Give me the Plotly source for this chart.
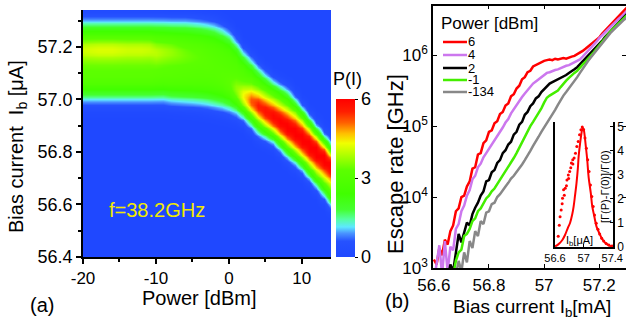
import numpy as np
import plotly.graph_objects as go

W, H = 626, 323
FA = "Liberation Sans, Arial, Helvetica, sans-serif"
FN = "Liberation Sans, Arial, Helvetica, sans-serif"

# ---------------- Panel (a): P(I) map vs microwave power ----------------
power_dbm = list(range(-20, 15))
band_center = [57.148] * 12 + [57.145, 57.144, 57.143, 57.141, 57.138, 57.134, 57.128, 57.118,
                               57.105, 57.083, 57.055, 57.025, 56.995, 56.975, 56.955, 56.933,
                               56.91, 56.88, 56.85, 56.815, 56.78, 56.74, 56.70]
band_halfwidth = [0.148] * 12 + [0.15, 0.151, 0.152, 0.152, 0.152, 0.152, 0.152, 0.149,
                                 0.145, 0.135, 0.125, 0.125, 0.125, 0.12, 0.115, 0.12,
                                 0.125, 0.12, 0.115, 0.112, 0.11, 0.107, 0.105]
band_level = [3.3] * 10 + [3.25, 3.22, 3.2, 3.17, 3.15, 3.12, 3.1, 3.07, 3.05, 3.02] + [3.0] * 15
peak_center = [57.19] * 10 + [57.18, 57.18, 57.18, 57.175, 57.17, 57.165, 57.16, 57.14, 57.12,
                              57.09, 57.06, 57.035, 57.01, 56.993, 56.975, 56.955, 56.935,
                              56.915, 56.895, 56.873, 56.85, 56.825, 56.80, 56.775, 56.75]
peak_height = [0.8, 0.85, 0.9, 0.9, 0.9, 0.85, 0.8, 0.8, 0.8, 0.75, 0.7, 0.6, 0.5, 0.4, 0.3,
               0.25, 0.2, 0.15, 0.1, 0.15, 0.3, 0.7, 1.4, 2.2, 2.6, 2.75, 2.9, 3.0, 3.1, 3.15,
               3.2, 3.25, 3.3, 3.3, 3.3]
peak_width = [0.03] * 17 + [0.033, 0.035, 0.035, 0.035, 0.035, 0.035, 0.038, 0.04, 0.042,
                            0.044, 0.046, 0.048, 0.05, 0.05, 0.05, 0.05, 0.05, 0.05]
bias_grid = np.round(np.arange(56.40, 57.365, 0.01), 3)

z = np.zeros((len(bias_grid), len(power_dbm)))
for j in range(len(power_dbm)):
    s = band_halfwidth[j] / 1.2
    band = band_level[j] * np.exp(-0.5 * ((bias_grid - band_center[j]) / s) ** 4)
    core = peak_height[j] * np.exp(-0.5 * ((bias_grid - peak_center[j]) / peak_width[j]) ** 2)
    z[:, j] = np.clip(band + core, 0, 6)

jet = [[0.0, '#1f48ff'], [0.1, '#2652ff'], [0.15, '#4a94ff'], [0.19, '#5ee8ff'],
       [0.24, '#55ffa0'], [0.3, '#45ff30'], [0.4, '#40ff00'], [0.55, '#5cff00'],
       [0.65, '#b4ff00'], [0.72, '#f0ff00'], [0.78, '#ffc000'], [0.85, '#ff6000'],
       [0.92, '#ff1e00'], [1.0, '#ff0000']]
power_ticks = [-20, -10, 0, 10]
power_ticktext = ['-20', '-10', '0', '10']

# ---------------- Panel (b): escape rate curves ----------------
bias_b = np.round(np.arange(56.60, 57.305, 0.01), 2)
legend_labels = ['6', '4', '2', '-1', '-134']
colors = ['#ff0000', '#cc77ee', '#000000', '#44ee00', '#888888']
log_rate_6 = [3.12, 3.05, 3.28, 3.18, 3.40, 3.33, 3.52, 3.60, 3.80, 3.84, 4.00, 4.02, 4.15, 4.22,
              4.40, 4.42, 4.60, 4.62, 4.76, 4.80, 4.92, 4.94, 5.04, 5.07, 5.17, 5.20, 5.29, 5.32,
              5.42, 5.45, 5.53, 5.57, 5.66, 5.69, 5.76, 5.78, 5.84, 5.86, 5.89, 5.90, 5.92, 5.93,
              5.94, 5.93, 5.95, 5.94, 5.95, 5.96, 5.95, 5.97, 5.98, 5.99, 6.01, 6.03, 6.06, 6.09,
              6.12, 6.15, 6.18, 6.21, 6.25, 6.30, 6.34, 6.39, 6.43, 6.47, 6.51, 6.55, 6.59, 6.63, 6.67]
log_rate_4 = [2.8, 3.05, 3.32, 2.9, 3.38, 2.95, 3.3, 3.25, 3.55, 3.62, 3.80, 3.88, 4.02, 4.10,
              4.25, 4.30, 4.42, 4.47, 4.56, 4.62, 4.68, 4.73, 4.80, 4.86, 4.92, 4.98, 5.05, 5.10,
              5.18, 5.24, 5.30, 5.35, 5.41, 5.46, 5.51, 5.56, 5.60, 5.63, 5.66, 5.69, 5.72, 5.75,
              5.76, 5.78, 5.79, 5.80, 5.82, 5.83, 5.85, 5.86, 5.88, 5.89, 5.91, 5.94, 5.98, 6.02,
              6.06, 6.10, 6.14, 6.19, 6.24, 6.28, 6.32, 6.36, 6.40, 6.43, 6.47, 6.51, 6.54, 6.58, 6.62]
log_rate_2 = [2.5, 2.5, 2.5, 2.5, 2.6, 2.8, 3.05, 2.95, 3.25, 3.48, 3.36, 3.50, 3.64, 3.60,
              3.76, 3.85, 3.92, 4.02, 4.08, 4.22, 4.24, 4.35, 4.38, 4.48, 4.52, 4.62, 4.66, 4.74,
              4.78, 4.88, 4.92, 5.02, 5.06, 5.16, 5.20, 5.28, 5.32, 5.39, 5.42, 5.48, 5.52, 5.57,
              5.60, 5.62, 5.64, 5.65, 5.67, 5.70, 5.72, 5.75, 5.77, 5.80, 5.83, 5.87, 5.91, 5.95,
              5.99, 6.03, 6.07, 6.11, 6.16, 6.20, 6.25, 6.29, 6.34, 6.38, 6.42, 6.46, 6.50, 6.54, 6.58]
log_rate_m1 = [2.5, 2.5, 2.5, 2.5, 2.5, 2.5, 2.5, 2.9, 3.1, 3.22, 3.26, 3.45, 3.48, 3.55,
               3.66, 3.70, 3.80, 3.84, 3.92, 3.98, 4.02, 4.08, 4.12, 4.18, 4.24, 4.30, 4.36, 4.42,
               4.48, 4.55, 4.62, 4.70, 4.78, 4.85, 4.93, 5.00, 5.06, 5.12, 5.18, 5.25, 5.33, 5.40,
               5.43, 5.45, 5.47, 5.50, 5.55, 5.60, 5.64, 5.68, 5.72, 5.75, 5.78, 5.83, 5.87, 5.91,
               5.95, 5.99, 6.04, 6.09, 6.14, 6.19, 6.24, 6.28, 6.33, 6.37, 6.41, 6.45, 6.49, 6.52, 6.56]
log_rate_m134 = [2.5, 2.5, 2.5, 2.5, 2.5, 2.5, 2.5, 2.5, 2.9, 3.1, 2.95, 3.22, 3.08, 3.38,
                 3.28, 3.52, 3.45, 3.66, 3.62, 3.78, 3.80, 3.90, 3.92, 4.00, 4.04, 4.10, 4.15, 4.20,
                 4.26, 4.30, 4.35, 4.40, 4.46, 4.52, 4.58, 4.65, 4.72, 4.78, 4.85, 4.92, 4.98, 5.05,
                 5.11, 5.17, 5.23, 5.30, 5.37, 5.43, 5.48, 5.53, 5.58, 5.64, 5.69, 5.75, 5.81, 5.86,
                 5.92, 5.97, 6.02, 6.07, 6.12, 6.17, 6.22, 6.27, 6.31, 6.35, 6.39, 6.43, 6.47, 6.50, 6.53]
curves = [log_rate_6, log_rate_4, log_rate_2, log_rate_m1, log_rate_m134]

# ---------------- Inset ----------------
inset_fit_x = [56.60, 56.65, 56.70, 56.74, 56.78, 56.81, 56.84, 56.86, 56.88, 56.90, 56.92, 56.93,
               56.95, 56.97, 56.98, 56.99, 57.00, 57.01, 57.03, 57.05, 57.07, 57.10, 57.12, 57.15,
               57.18, 57.22, 57.26, 57.31, 57.36, 57.41]
inset_fit_y = [0.02, 0.12, 0.28, 0.5, 0.8, 1.0, 1.35, 1.68, 2.15, 2.65, 3.3, 3.76,
               4.3, 4.74, 4.9, 4.95, 4.9, 4.74, 4.2, 3.63, 2.9, 2.24, 1.7, 1.26,
               0.85, 0.57, 0.32, 0.15, 0.06, 0.01]
inset_pts_x = [56.645, 56.66, 56.671, 56.686, 56.705, 56.72, 56.743, 56.767, 56.786, 56.805, 56.829,
               56.848, 56.867, 56.886, 56.905, 56.924, 56.943, 56.962, 56.981, 57.0, 57.019, 57.038,
               57.057, 57.076, 57.095, 57.114, 57.133, 57.152, 57.176, 57.2, 57.224, 57.252, 57.28,
               57.314, 57.352, 57.395, 56.70, 56.73, 56.76, 56.79, 56.82, 56.85]
inset_pts_y = [0.45, 0.9, 1.26, 1.54, 2.03, 2.38, 2.44, 2.79, 3.0, 3.14, 3.49,
               3.63, 3.7, 3.9, 4.18, 4.39, 4.67, 4.88, 4.99, 4.88, 4.53, 4.11,
               3.63, 3.14, 2.58, 2.10, 1.68, 1.33, 0.99, 0.74, 0.54, 0.36, 0.25,
               0.15, 0.08, 0.04, 1.8, 2.15, 2.55, 2.85, 3.3, 3.45]


def px(x):
    return x / W


def py(y):
    return 1 - y / H


fig = go.Figure()

fig.add_trace(go.Heatmap(
    x=power_dbm, y=bias_grid, z=z, zmin=0, zmax=6, zsmooth='best', colorscale=jet,
    xaxis='x', yaxis='y', hoverinfo='skip',
    colorbar=dict(x=px(336), xanchor='left', xpad=0, ypad=0, thickness=19,
                  len=(257 - 99) / H, lenmode='fraction', y=py(257), yanchor='bottom',
                  outlinewidth=0, tickvals=[0, 3, 6], ticks='outside', ticklen=3,
                  tickcolor='black',
                  tickfont=dict(family=FA, size=18, color='black'))))

for lab, col, lr in zip(legend_labels, colors, curves):
    fig.add_trace(go.Scatter(x=bias_b, y=10 ** np.array(lr), mode='lines',
                             line=dict(color=col, width=2.5), xaxis='x2', yaxis='y2',
                             showlegend=False, name=lab))

fig.add_trace(go.Scatter(x=inset_fit_x, y=inset_fit_y, mode='lines', line_shape='spline',
                         line=dict(color='#ff0000', width=2), xaxis='x3', yaxis='y3',
                         showlegend=False))
fig.add_trace(go.Scatter(x=inset_pts_x, y=inset_pts_y, mode='markers',
                         marker=dict(color='#ff0000', size=3), xaxis='x3', yaxis='y3',
                         showlegend=False))

axcommon = dict(showline=True, linecolor='black', linewidth=1.5, showgrid=False,
                zeroline=False, tickcolor='black', automargin=False)

fig.update_layout(
    template='none',
    width=W, height=H, autosize=False, margin=dict(l=0, r=0, t=0, b=0, pad=0),
    paper_bgcolor='white', plot_bgcolor='white', showlegend=False,
    xaxis=dict(domain=[px(83), px(331)], range=[-20, 14], tickvals=power_ticks,
               ticktext=power_ticktext,
               ticks='outside', ticklen=5, tickwidth=1.5, ticklabelstandoff=0,
               minor=dict(dtick=5, ticks='outside', ticklen=3, tickcolor='black'),
               tickfont=dict(family=FA, size=17, color='black'), anchor='y', **axcommon),
    yaxis=dict(domain=[py(257), py(10)], range=[56.4, 57.34], tickvals=[56.4, 56.6, 56.8, 57.0, 57.2],
               tickformat='.1f', ticks='outside', ticklen=5, tickwidth=1.5,
               minor=dict(dtick=0.1, ticks='outside', ticklen=3, tickcolor='black'),
               tickfont=dict(family=FA, size=18, color='black'), anchor='x', **axcommon),
    xaxis2=dict(domain=[px(433), 1.0], range=[56.597, 57.297], tickvals=[56.6, 56.8, 57.0, 57.2],
                ticktext=['56.6', '56.8', '57', '57.2'], ticks='inside', ticklen=4, mirror='ticks',
                ticklabelstandoff=1,
                tickfont=dict(family=FN, size=17, color='black'), anchor='y2', **axcommon),
    yaxis2=dict(domain=[py(268), py(5.5)], type='log', range=[3, 6.70],
                tickvals=[1e3, 1e4, 1e5, 1e6],
                ticktext=['10<sup>3</sup>', '10<sup>4</sup>', '10<sup>5</sup>', '10<sup>6</sup>'],
                ticks='inside', ticklen=4, mirror='ticks',
                tickfont=dict(family=FN, size=17, color='black'), anchor='x2', **axcommon),
    xaxis3=dict(domain=[px(555), px(613)], range=[56.6, 57.41], tickvals=[56.6, 57.0, 57.4],
                ticktext=['56.6', '57', '57.4'], ticks='inside', ticklen=3,
                tickfont=dict(family=FN, size=11, color='black'), anchor='y3', **axcommon),
    yaxis3=dict(domain=[py(247), py(122)], range=[0, 5.2], tickvals=[0, 1, 2, 3, 4, 5],
                side='right', ticks='inside', ticklen=3, mirror=True,
                tickfont=dict(family=FN, size=12, color='black'), anchor='x3', **axcommon),
)


def ann(text, x, y, size, family=FA, color='black', angle=0, xanchor='center'):
    fig.add_annotation(text=text, x=px(x), y=py(y), xref='paper', yref='paper',
                       showarrow=False, textangle=angle, xanchor=xanchor, yanchor='middle',
                       font=dict(family=family, size=size, color=color))


ann('(a)', 42, 305, 20)
ann('(b)', 397, 301, 20)
ann('f=38.2GHz', 157, 210, 20, color='#f2ea00')
ann('P(I)', 347, 79, 18)
ann('Power [dBm]', 199, 298, 20)
ann('Bias current  I<sub>b</sub> [μA]', 18, 147, 20, angle=-90)
ann('Escape rate [GHz]', 395, 164, 22, family=FN, angle=-90)
ann('Bias current I<sub>b</sub>[mA]', 532, 308, 19, family=FN)
ann('Power [dBm]', 439, 23, 17, family=FN, xanchor='left')
ann('[Γ(P)-Γ(0)]/Γ(0)', 605, 187, 11, family=FN, angle=-90)
ann('I<sub>b</sub>[μA]', 579, 241, 11, family=FN)

legend_y = [42, 55, 68, 80, 92]
for lab, col, yy in zip(legend_labels, colors, legend_y):
    fig.add_shape(type='line', xref='paper', yref='paper', x0=px(443), x1=px(467),
                  y0=py(yy), y1=py(yy), line=dict(color=col, width=2.5))
    ann(lab, 466, yy, 13, family=FN, xanchor='left')

fig.write_html('out.html')
